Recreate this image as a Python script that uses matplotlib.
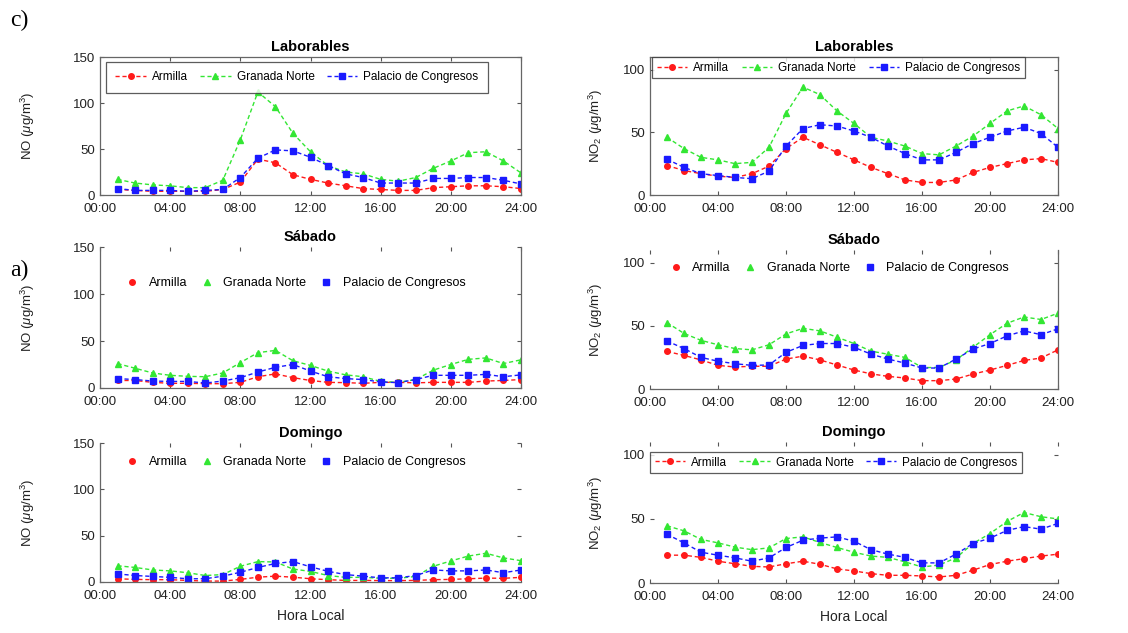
import numpy as np
import matplotlib
matplotlib.use("Agg")
import matplotlib.pyplot as plt
from matplotlib.lines import Line2D

plt.rcParams['font.family'] = ['Liberation Sans', 'DejaVu Sans']
plt.rcParams['mathtext.fontset'] = 'custom'
plt.rcParams['mathtext.rm'] = 'Liberation Sans'
plt.rcParams['mathtext.it'] = 'Liberation Sans:italic'

# hours 1..24
hours = np.arange(1, 25)
stations = ["Armilla", "Granada Norte", "Palacio de Congresos"]
xtick_pos = [0, 4, 8, 12, 16, 20, 24]
xtick_labels = ["00:00", "04:00", "08:00", "12:00", "16:00", "20:00", "24:00"]

# NO, laborables
no_lab_armilla = [6, 5, 4, 4, 4, 4, 6, 14, 39, 35, 22, 17, 13, 10, 7, 6, 5, 5, 8, 9, 10, 10, 9, 7]
no_lab_granada = [17, 13, 11, 10, 8, 8, 16, 60, 112, 96, 67, 47, 32, 25, 23, 17, 15, 19, 29, 37, 46, 47, 37, 24]
no_lab_palacio = [7, 5, 5, 5, 4, 5, 6, 19, 40, 49, 48, 41, 32, 23, 19, 13, 13, 13, 18, 18, 19, 19, 16, 12]

# NO2, laborables
no2_lab_armilla = [23.5, 19.5, 17, 15, 14, 17, 23, 37, 46, 40, 34, 28, 22, 17, 12, 10, 10, 12, 18, 22, 25, 28, 29, 26]
no2_lab_granada = [46, 37, 30, 28, 25, 26, 38, 65, 86, 80, 67, 57, 46, 43, 39, 33, 32, 39, 47, 57, 67, 71, 64, 53]
no2_lab_palacio = [28.5, 22, 17, 15.5, 14, 13, 19, 39, 53, 56, 55, 51, 46, 39, 33, 28, 28, 34, 41, 46, 51, 54, 49, 38]

# NO, sabado
no_sab_armilla = [8, 8, 6, 5, 5, 4.6, 4.6, 6, 12, 15, 11, 8, 6, 5.7, 5, 6, 6, 5.5, 6, 6, 6, 7.4, 8, 9]
no_sab_granada = [26, 21, 16, 13.5, 12.4, 12, 16, 27, 37.6, 40, 29, 24, 18, 14, 12, 7, 6, 9, 19, 25, 30.5, 32, 26, 30]
no_sab_palacio = [10, 9, 7.4, 7, 7, 5.3, 7.4, 11, 17, 22, 25, 18, 12, 10, 9, 6.4, 5.7, 9, 13.5, 13.5, 13.5, 14.5, 12, 14]

# NO2, sabado
no2_sab_armilla = [29.7, 26.6, 23, 18.7, 17.4, 18, 18, 23.7, 26, 23, 19, 15, 12, 10, 8.7, 6.6, 6.6, 7.9, 11.8, 15, 18.7, 22.6, 24.5, 31]
no2_sab_granada = [52.5, 44, 38.5, 35, 32, 31, 35, 43.6, 48, 46, 41, 36, 30, 27.5, 25, 17, 17, 23, 33, 43, 52, 57, 55, 60]
no2_sab_palacio = [38, 32, 25, 22, 20, 18.7, 19, 29, 34.5, 36, 36, 33, 27.6, 23.7, 20.5, 16.6, 16.6, 23.7, 31.6, 36, 42, 46, 43, 47.6]

# NO, domingo
no_dom_armilla = [3.5, 2.8, 2.5, 2.5, 1.7, 1, 1, 2.8, 5.2, 6.3, 5.2, 3.5, 2.5, 1.7, 1.7, 1.5, 1.5, 1.7, 2.5, 2.8, 3.5, 4.2, 4, 5]
no_dom_granada = [17.5, 15.7, 13, 12, 10, 7, 8, 17, 22, 21.6, 14, 11.4, 7, 5, 5, 4, 4, 6, 17, 22.7, 28, 31, 26, 23]
no_dom_palacio = [8.7, 7, 6, 5, 3.5, 3.5, 6.3, 10.5, 15.7, 20, 22, 16.4, 11.5, 8, 6.3, 4.5, 4.5, 7, 13, 12, 12, 13, 10, 13]

# NO2, domingo
no2_dom_armilla = [21.7, 21.7, 20, 17, 15, 13, 12.5, 15, 17, 14.6, 11, 9.4, 7.3, 6, 6, 5.5, 4.7, 6, 10, 14.4, 17, 19, 21, 22.5]
no2_dom_granada = [44.6, 40.7, 34, 31.3, 28, 26, 27.4, 34.7, 36, 31.6, 27.7, 24, 21, 20, 16.5, 12.5, 14, 19.6, 30.8, 38.6, 48, 55, 51.7, 50]
no2_dom_palacio = [38, 31.3, 24, 21.7, 19.6, 17, 19.6, 27.7, 33.4, 35, 36, 32.6, 26, 22.5, 20, 15.7, 15.7, 22.5, 30.8, 35, 41, 44, 42, 46.5]

colors = ["#ff1a1a", "#33e633", "#1a1aff"]
markers = ["o", "^", "s"]

W, H = 1128, 633
fig = plt.figure(figsize=(W / 100, H / 100), dpi=100)


def add_ax(x0, y0, x1, y1):
    return fig.add_axes([x0 / W, 1 - y1 / H, (x1 - x0) / W, (y1 - y0) / H])


panels = [
    # (box px, title, series, ylim, yticks, ylabel, spines hidden, legend kind, legend anchor)
    ((100, 57, 521, 195), "Laborables", [no_lab_armilla, no_lab_granada, no_lab_palacio],
     150, [0, 50, 100, 150], "NO", [], "box", (0.014, 0.5, 0.907, 0.464)),
    ((650, 57, 1058, 195), "Laborables", [no2_lab_armilla, no2_lab_granada, no2_lab_palacio],
     110, [0, 50, 100], "NO2", [], "box", (0.005, 0.5, 0.914, 0.5)),
    ((100, 247, 521, 388), "Sábado", [no_sab_armilla, no_sab_granada, no_sab_palacio],
     150, [0, 50, 100, 150], "NO", ["top"], "marks", (0.05, 0.745)),
    ((650, 250, 1058, 389), "Sábado", [no2_sab_armilla, no2_sab_granada, no2_sab_palacio],
     110, [0, 50, 100], "NO2", ["top", "left"], "marks", (0.035, 0.87)),
    ((100, 443, 521, 582), "Domingo", [no_dom_armilla, no_dom_granada, no_dom_palacio],
     150, [0, 50, 100, 150], "NO", ["top", "right"], "marks", (0.05, 0.86)),
    ((650, 442, 1058, 583), "Domingo", [no2_dom_armilla, no2_dom_granada, no2_dom_palacio],
     110, [0, 50, 100], "NO2", ["top", "left", "right"], "box", (0.0, 0.5, 0.912, 0.43)),
]

for i, (box, title, series, ytop, yticks, species, hidden, lkind, lanchor) in enumerate(panels):
    ax = add_ax(*box)
    for vals, name, c, m in zip(series, stations, colors, markers):
        ax.plot(hours, vals, ls="--", dashes=(3, 2), lw=1.0, color=c,
                marker=m, ms=4, mec=c, mfc=c, label=name)
    ax.set_xlim(0, 24)
    ax.set_ylim(0, ytop)
    ax.set_xticks(xtick_pos)
    ax.set_xticklabels(xtick_labels)
    ax.set_yticks(yticks)
    ax.tick_params(direction="in", length=3, width=0.8, colors="#555555",
                   labelcolor="#222222", labelsize=9.5, top=True, right=True)
    ax.tick_params(axis="x", pad=6)
    for side in ["top", "bottom", "left", "right"]:
        ax.spines[side].set_color("#666666")
        ax.spines[side].set_linewidth(0.9)
    for side in hidden:
        ax.spines[side].set_visible(False)
    ax.set_title(title, fontsize=10.5, fontweight="bold", pad=4)

    if species == "NO":
        ax.set_ylabel(r"NO ($\mu$g/m$^3$)", fontsize=9.5, color="#222222")
        ax.yaxis.set_label_coords(-0.15, 0.5)
    else:
        ax.set_ylabel(r"NO$_2$ ($\mu$g/m$^3$)", fontsize=9.5, color="#222222")
        ax.yaxis.set_label_coords(-0.11, 0.5)

    if i >= 4:
        ax.set_xlabel("Hora Local", fontsize=10, color="#222222", labelpad=5)

    if lkind == "box":
        bp = 0.8 if i == 0 else 0.4
        leg = ax.legend(loc="upper left", bbox_to_anchor=lanchor, mode="expand", ncol=3,
                        fontsize=8.5, handlelength=2.6, handletextpad=0.5, borderpad=bp,
                        borderaxespad=0, frameon=True, fancybox=False)
        leg.get_frame().set_edgecolor("#333333")
        leg.get_frame().set_linewidth(0.9)
    else:
        handles = [Line2D([], [], ls="None", marker=m, ms=4, color=c, mec=c)
                   for c, m in zip(colors, markers)]
        ax.legend(handles, stations, loc="center left", bbox_to_anchor=lanchor, ncol=3,
                  fontsize=9, handlelength=1.0, handletextpad=0.8, columnspacing=1.1,
                  borderaxespad=0, frameon=False)

fig.text(10 / W, 1 - 20 / H, "c)", fontsize=17, family="Liberation Serif", va="center")
fig.text(10 / W, 1 - 270 / H, "a)", fontsize=17, family="Liberation Serif", va="center")

fig.savefig("out.png", dpi=100)
